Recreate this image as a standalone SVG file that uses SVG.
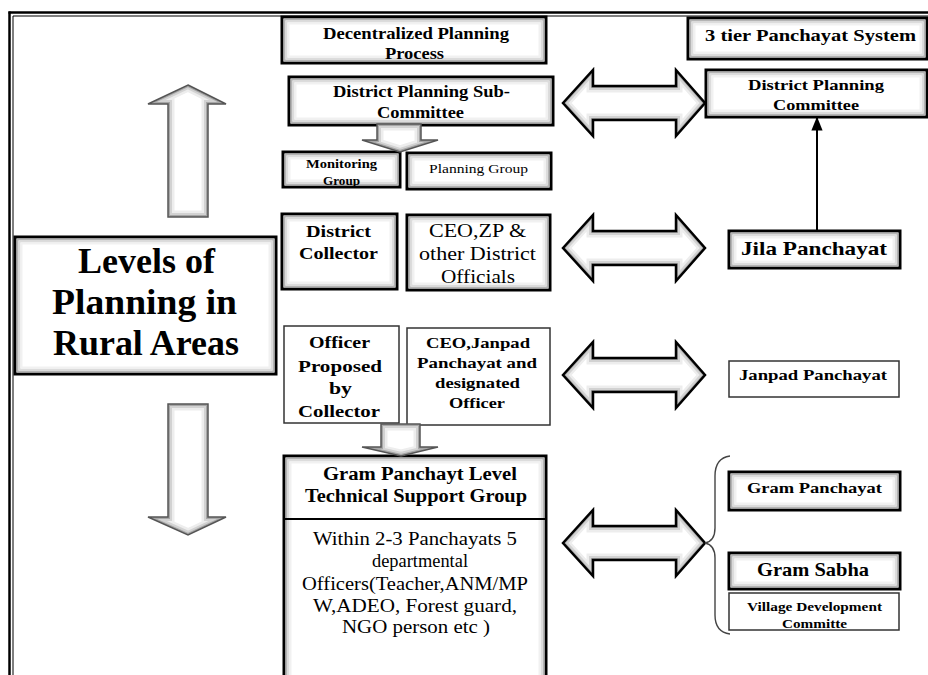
<svg xmlns="http://www.w3.org/2000/svg" width="928" height="675" viewBox="0 0 928 675">
<defs>
<marker id="ah" viewBox="0 0 10 10" refX="9" refY="5" markerWidth="7" markerHeight="7" orient="auto">
<path d="M0,1 L10,5 L0,9 z" fill="#000"/>
</marker>
<polygon id="dbl" points="563,0 593,-33 593,-17 676,-17 676,-33 705,0 676,33 676,17 593,17 593,33"/>
<polygon id="up" points="188,85 226,104 208,104 208,217 168,217 168,104 148,104"/>
<polygon id="down" points="168,404 208,404 208,517 226,517 188,535 148,517 168,517"/>
<polygon id="s1" points="377,124 421,124 421,140 438,140 400,152 362,140 377,140"/>
<polygon id="s2" points="381,424 420,424 420,447 438,447 401,456 362,447 381,447"/>
<clipPath id="c-dbl"><use href="#dbl"/></clipPath>
<clipPath id="c-up"><use href="#up"/></clipPath>
<clipPath id="c-down"><use href="#down"/></clipPath>
<clipPath id="c-s1"><use href="#s1"/></clipPath>
<clipPath id="c-s2"><use href="#s2"/></clipPath>
</defs>
<style>
.thick{fill:#fff;stroke:#000;stroke-width:3}
.thin{fill:#fff;stroke:#333;stroke-width:1.5}
.g1{fill:none;stroke:#b4b4b4;stroke-width:2}
.g2{fill:none;stroke:#dcdcdc;stroke-width:2}
.g3{fill:none;stroke:#f1f1f1;stroke-width:2}
.b{font-weight:bold}
.wf{fill:#fff}
.a1{fill:none;stroke:#ededed;stroke-width:13}
.a2{fill:none;stroke:#d2d2d2;stroke-width:8}
.a3{fill:none;stroke:#a6a6a6;stroke-width:4}
.eblk{fill:none;stroke:#000;stroke-width:2.5;stroke-linejoin:miter}
.egry{fill:none;stroke:#555;stroke-width:1.5}
.frame{stroke:#000;fill:none}
</style>
<rect width="928" height="675" fill="#fff"/>
<g id="frame">
<line class="frame" x1="9.5" y1="11.5" x2="9.5" y2="675" stroke-width="2.5"/>
<line class="frame" x1="8.5" y1="12.5" x2="928" y2="12.5" stroke-width="2.5"/>
<line class="frame" x1="13" y1="16" x2="13" y2="675" stroke-width="1"/>
<line class="frame" x1="13" y1="16" x2="928" y2="16" stroke-width="1"/>
</g>
<g id="nodes" font-family="Liberation Serif, DejaVu Serif, serif" fill="#000">
<g id="decentralized">
<rect class="thick" x="282" y="17" width="264" height="46"/>
<rect class="g1" x="284.5" y="19.5" width="259" height="41"/><rect class="g2" x="286.5" y="21.5" width="255" height="37"/><rect class="g3" x="288.5" y="23.5" width="251" height="33"/>
<text class="b" font-size="16" x="323" y="39" textLength="186" lengthAdjust="spacingAndGlyphs">Decentralized Planning</text>
<text class="b" font-size="16" x="385" y="59" textLength="59" lengthAdjust="spacingAndGlyphs">Process</text>
</g>
<g id="three-tier">
<rect class="thick" x="688" y="18" width="239" height="41"/>
<rect class="g1" x="690.5" y="20.5" width="234" height="36"/><rect class="g2" x="692.5" y="22.5" width="230" height="32"/><rect class="g3" x="694.5" y="24.5" width="226" height="28"/>
<text class="b" font-size="17" x="705" y="41" textLength="211" lengthAdjust="spacingAndGlyphs">3 tier Panchayat System</text>
</g>
<g id="dpsc">
<rect class="thick" x="289" y="77" width="264" height="48"/>
<rect class="g1" x="291.5" y="79.5" width="259" height="43"/><rect class="g2" x="293.5" y="81.5" width="255" height="39"/><rect class="g3" x="295.5" y="83.5" width="251" height="35"/>
<text class="b" font-size="16" x="333" y="97" textLength="177" lengthAdjust="spacingAndGlyphs">District Planning Sub-</text>
<text class="b" font-size="16" x="377" y="118" textLength="87" lengthAdjust="spacingAndGlyphs">Committee</text>
</g>
<g id="dpc">
<rect class="thick" x="706" y="70" width="221" height="47"/>
<rect class="g1" x="708.5" y="72.5" width="216" height="42"/><rect class="g2" x="710.5" y="74.5" width="212" height="38"/><rect class="g3" x="712.5" y="76.5" width="208" height="34"/>
<text class="b" font-size="15" x="748" y="90" textLength="136" lengthAdjust="spacingAndGlyphs">District Planning</text>
<text class="b" font-size="15" x="773" y="110" textLength="86" lengthAdjust="spacingAndGlyphs">Committee</text>
</g>
<g id="monitoring">
<rect class="thick" x="283" y="152" width="117" height="35"/>
<rect class="g1" x="285.5" y="154.5" width="112" height="30"/><rect class="g2" x="287.5" y="156.5" width="108" height="26"/><rect class="g3" x="289.5" y="158.5" width="104" height="22"/>
<text class="b" font-size="12" x="306" y="168" textLength="71" lengthAdjust="spacingAndGlyphs">Monitoring</text>
<text class="b" font-size="12" x="323" y="185" textLength="37" lengthAdjust="spacingAndGlyphs">Group</text>
</g>
<g id="planning-group">
<rect class="thick" x="407" y="153" width="144" height="36"/>
<rect class="g1" x="409.5" y="155.5" width="139" height="31"/><rect class="g2" x="411.5" y="157.5" width="135" height="27"/><rect class="g3" x="413.5" y="159.5" width="131" height="23"/>
<text font-size="13" x="429" y="173" textLength="99" lengthAdjust="spacingAndGlyphs">Planning Group</text>
</g>
<g id="levels">
<rect class="thick" x="15" y="237" width="261" height="137"/>
<rect class="g1" x="17.5" y="239.5" width="256" height="132"/><rect class="g2" x="19.5" y="241.5" width="252" height="128"/><rect class="g3" x="21.5" y="243.5" width="248" height="124"/>
<text class="b" font-size="35" x="78" y="273" textLength="137" lengthAdjust="spacingAndGlyphs">Levels of</text>
<text class="b" font-size="35" x="52" y="314" textLength="185" lengthAdjust="spacingAndGlyphs">Planning  in</text>
<text class="b" font-size="35" x="53" y="355" textLength="186" lengthAdjust="spacingAndGlyphs">Rural Areas</text>
</g>
<g id="district-collector">
<rect class="thick" x="282" y="214" width="115" height="75"/>
<rect class="g1" x="284.5" y="216.5" width="110" height="70"/><rect class="g2" x="286.5" y="218.5" width="106" height="66"/><rect class="g3" x="288.5" y="220.5" width="102" height="62"/>
<text class="b" font-size="17" x="306" y="237" textLength="65" lengthAdjust="spacingAndGlyphs">District</text>
<text class="b" font-size="17" x="299" y="259" textLength="79" lengthAdjust="spacingAndGlyphs">Collector</text>
</g>
<g id="ceo-zp">
<rect class="thick" x="407" y="215" width="143" height="75"/>
<rect class="g1" x="409.5" y="217.5" width="138" height="70"/><rect class="g2" x="411.5" y="219.5" width="134" height="66"/><rect class="g3" x="413.5" y="221.5" width="130" height="62"/>
<text font-size="18" x="429" y="237" textLength="97" lengthAdjust="spacingAndGlyphs">CEO,ZP &amp;</text>
<text font-size="18" x="419" y="260" textLength="117" lengthAdjust="spacingAndGlyphs">other District</text>
<text font-size="18" x="441" y="283" textLength="74" lengthAdjust="spacingAndGlyphs">Officials</text>
</g>
<g id="jila">
<rect class="thick" x="729" y="231" width="171" height="37"/>
<rect class="g1" x="731.5" y="233.5" width="166" height="32"/><rect class="g2" x="733.5" y="235.5" width="162" height="28"/><rect class="g3" x="735.5" y="237.5" width="158" height="24"/>
<text class="b" font-size="19" x="741" y="255" textLength="146" lengthAdjust="spacingAndGlyphs">Jila Panchayat</text>
</g>
<g id="officer-proposed">
<rect class="thin" x="284" y="326" width="115" height="97"/>
<text class="b" font-size="17" x="309" y="348" textLength="61" lengthAdjust="spacingAndGlyphs">Officer</text>
<text class="b" font-size="17" x="298" y="372" textLength="84" lengthAdjust="spacingAndGlyphs">Proposed</text>
<text class="b" font-size="17" x="329" y="394" textLength="23" lengthAdjust="spacingAndGlyphs">by</text>
<text class="b" font-size="17" x="298" y="417" textLength="82" lengthAdjust="spacingAndGlyphs">Collector</text>
</g>
<g id="ceo-janpad">
<rect class="thin" x="407" y="328" width="143" height="97"/>
<text class="b" font-size="15" x="426" y="348" textLength="104" lengthAdjust="spacingAndGlyphs">CEO,Janpad</text>
<text class="b" font-size="15" x="417" y="368" textLength="120" lengthAdjust="spacingAndGlyphs">Panchayat and</text>
<text class="b" font-size="15" x="435" y="388" textLength="85" lengthAdjust="spacingAndGlyphs">designated</text>
<text class="b" font-size="15" x="449" y="408" textLength="56" lengthAdjust="spacingAndGlyphs">Officer</text>
</g>
<g id="janpad">
<rect class="thin" x="729" y="361" width="170" height="36"/>
<text class="b" font-size="15" x="739" y="380" textLength="148" lengthAdjust="spacingAndGlyphs">Janpad Panchayat</text>
</g>
<g id="gram-tsg">
<rect class="thick" x="284" y="456" width="262" height="230"/>
<rect class="g1" x="286.5" y="458.5" width="257" height="225"/><rect class="g2" x="288.5" y="460.5" width="253" height="221"/><rect class="g3" x="290.5" y="462.5" width="249" height="217"/>
<line x1="284" y1="519" x2="546" y2="519" stroke="#000" stroke-width="1.8"/>
<text class="b" font-size="18" x="323" y="480" textLength="194" lengthAdjust="spacingAndGlyphs">Gram Panchayt Level</text>
<text class="b" font-size="18" x="305" y="502" textLength="222" lengthAdjust="spacingAndGlyphs">Technical Support Group</text>
<text font-size="18" x="313" y="545" textLength="204" lengthAdjust="spacingAndGlyphs">Within 2-3 Panchayats 5</text>
<text font-size="18" x="372" y="567" textLength="96" lengthAdjust="spacingAndGlyphs">departmental</text>
<text font-size="18" x="302" y="590" textLength="226" lengthAdjust="spacingAndGlyphs">Officers(Teacher,ANM/MP</text>
<text font-size="18" x="313" y="612" textLength="204" lengthAdjust="spacingAndGlyphs">W,ADEO, Forest guard,</text>
<text font-size="18" x="342" y="633" textLength="148" lengthAdjust="spacingAndGlyphs">NGO person etc )</text>
</g>
<g id="gram-panchayat">
<rect class="thick" x="729" y="472" width="171" height="38"/>
<rect class="g1" x="731.5" y="474.5" width="166" height="33"/><rect class="g2" x="733.5" y="476.5" width="162" height="29"/><rect class="g3" x="735.5" y="478.5" width="158" height="25"/>
<text class="b" font-size="15" x="747" y="493" textLength="135" lengthAdjust="spacingAndGlyphs">Gram Panchayat</text>
</g>
<g id="gram-sabha">
<rect class="thick" x="729" y="553" width="171" height="36"/>
<rect class="g1" x="731.5" y="555.5" width="166" height="31"/><rect class="g2" x="733.5" y="557.5" width="162" height="27"/><rect class="g3" x="735.5" y="559.5" width="158" height="23"/>
<text class="b" font-size="19" x="757" y="576" textLength="112" lengthAdjust="spacingAndGlyphs">Gram Sabha</text>
</g>
<g id="village-dev">
<rect class="thin" x="729" y="593" width="170" height="37"/>
<text class="b" font-size="12" x="747" y="611" textLength="135" lengthAdjust="spacingAndGlyphs">Village Development</text>
<text class="b" font-size="12" x="782" y="628" textLength="65" lengthAdjust="spacingAndGlyphs">Committe</text>
</g>
</g>
<g id="connectors">
<g id="arrow-up">
<use href="#up" class="wf"/>
<g clip-path="url(#c-up)"><use href="#up" class="a1"/><use href="#up" class="a2"/><use href="#up" class="a3"/></g>
<use href="#up" class="egry"/>
</g>
<g id="arrow-down">
<use href="#down" class="wf"/>
<g clip-path="url(#c-down)"><use href="#down" class="a1"/><use href="#down" class="a2"/><use href="#down" class="a3"/></g>
<use href="#down" class="egry"/>
</g>
<g id="arrow-s1">
<use href="#s1" class="wf"/>
<g clip-path="url(#c-s1)"><use href="#s1" class="a1"/><use href="#s1" class="a2"/><use href="#s1" class="a3"/></g>
<use href="#s1" class="egry"/>
</g>
<g id="arrow-s2">
<use href="#s2" class="wf"/>
<g clip-path="url(#c-s2)"><use href="#s2" class="a1"/><use href="#s2" class="a2"/><use href="#s2" class="a3"/></g>
<use href="#s2" class="egry"/>
</g>
<g id="dbl1" transform="translate(0,103)">
<use href="#dbl" class="wf"/>
<g clip-path="url(#c-dbl)"><use href="#dbl" class="a1"/><use href="#dbl" class="a2"/><use href="#dbl" class="a3"/></g>
<use href="#dbl" class="eblk"/>
</g>
<g id="dbl2" transform="translate(0,248)">
<use href="#dbl" class="wf"/>
<g clip-path="url(#c-dbl)"><use href="#dbl" class="a1"/><use href="#dbl" class="a2"/><use href="#dbl" class="a3"/></g>
<use href="#dbl" class="eblk"/>
</g>
<g id="dbl3" transform="translate(0,375)">
<use href="#dbl" class="wf"/>
<g clip-path="url(#c-dbl)"><use href="#dbl" class="a1"/><use href="#dbl" class="a2"/><use href="#dbl" class="a3"/></g>
<use href="#dbl" class="eblk"/>
</g>
<g id="dbl4" transform="translate(0,543)">
<use href="#dbl" class="wf"/>
<g clip-path="url(#c-dbl)"><use href="#dbl" class="a1"/><use href="#dbl" class="a2"/><use href="#dbl" class="a3"/></g>
<use href="#dbl" class="eblk"/>
</g>
<line x1="817" y1="231" x2="817" y2="118" stroke="#000" stroke-width="2" marker-end="url(#ah)"/>
<path d="M730,456 Q715,458 715,476 L715,528 Q715,541 705,543 Q715,545 715,558 L715,615 Q715,632 730,634" fill="none" stroke="#444" stroke-width="1.4"/>
</g>
</svg>
